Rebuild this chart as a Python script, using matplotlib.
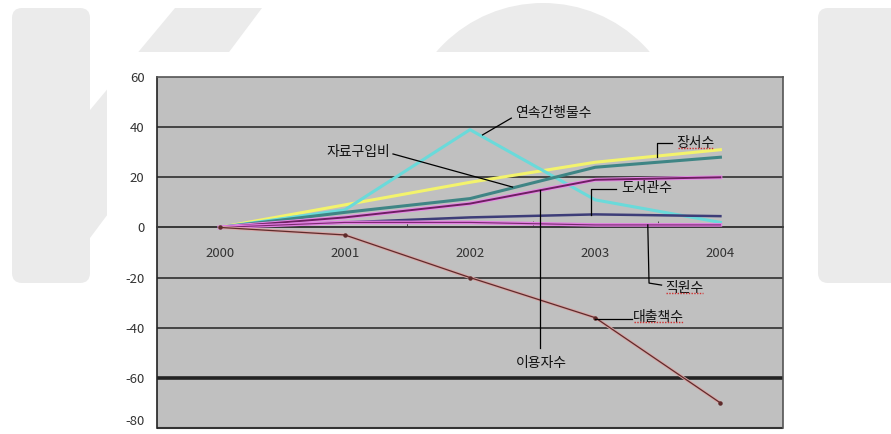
import matplotlib
matplotlib.use("Agg")
import matplotlib.pyplot as plt
from matplotlib.patches import FancyBboxPatch, Polygon, Circle, Rectangle
from matplotlib.transforms import IdentityTransform
from matplotlib.lines import Line2D

plt.rcParams['font.family'] = ['Noto Sans CJK KR', 'DejaVu Sans']
plt.rcParams['axes.unicode_minus'] = False

# data
years = ['2000', '2001', '2002', '2003', '2004']
serials = [0, 7, 39, 11, 2]          # 연속간행물수
books = [0, 9, 18, 26, 31]           # 장서수
purchase = [0, 6, 11.5, 24, 28]      # 자료구입비
users = [0, 4, 9.5, 19, 20]          # 이용자수
libraries = [0, 2, 4, 5.2, 4.5]      # 도서관수
staff = [0, 2, 2, 1, 1]              # 직원수
loans = [0, -3, -20, -36, -70]       # 대출책수

W, H = 891, 434
fig = plt.figure(figsize=(W / 100, H / 100), dpi=100)
fig.patch.set_facecolor('white')

# faint watermark shapes behind the chart (pixel coords, origin top-left)
wm = '#ebebeb'
def px(x, y):
    return (x, H - y)

tr = IdentityTransform()
fig.add_artist(FancyBboxPatch(px(12, 283), 78, 275, boxstyle='round,pad=0,rounding_size=10',
                              transform=tr, fc=wm, ec='none', zorder=-3))
fig.add_artist(Polygon([px(175, 8), px(262, 8), px(90, 238), px(90, 110)], closed=True,
                       transform=tr, fc=wm, ec='none', zorder=-3))
fig.add_artist(Circle(px(543, 144), 141, transform=tr, fc=wm, ec='none', zorder=-3))
fig.add_artist(FancyBboxPatch(px(818, 283), 90, 275, boxstyle='round,pad=0,rounding_size=10',
                              transform=tr, fc=wm, ec='none', zorder=-3))
fig.add_artist(Rectangle(px(107, 434), 708, 382, transform=tr, fc='white', ec='none', zorder=-2))

ax = fig.add_axes([157 / W, 1 - 428 / H, (783 - 157) / W, (428 - 77) / H])
ax.set_facecolor('#c0c0c0')
x = list(range(len(years)))

ax.set_xlim(-0.5, 4.5)
ax.set_ylim(-80, 60)
ax.set_yticks(range(-80, 61, 20))
for v in range(-40, 41, 20):
    ax.axhline(v, color='#3a3a3a', lw=1.3, zorder=1)
ax.axhline(-60, color='#222222', lw=2.6, zorder=1)

for s in ['top', 'right', 'left']:
    ax.spines[s].set_color('#555555')
    ax.spines[s].set_linewidth(1.2)
ax.spines['left'].set_color('#222222')
ax.spines['bottom'].set_position(('data', 0))
ax.spines['bottom'].set_color('#3a3a3a')
ax.spines['bottom'].set_linewidth(1.3)
ax.add_patch(Rectangle((0, 0), 1, 0.001, transform=ax.transAxes, fc='none',
                       ec='#333333', lw=1.5, clip_on=False))

ax.set_xticks(x)
ax.set_xticklabels(years)
ax.set_xticks([0.5, 1.5, 2.5, 3.5], minor=True)
ax.tick_params(axis='x', which='major', length=0, pad=14, labelsize=9.5, colors='#333333')
ax.tick_params(axis='x', which='minor', direction='in', length=4, color='#333333')
ax.tick_params(axis='y', length=0, pad=9, labelsize=9.5, colors='#333333')
ax.get_yticklabels()[0].set_va('bottom')

# series
ax.plot(x, books, color='#f3f36c', lw=2.2, zorder=3)
ax.plot(x, serials, color='#6adada', lw=2.2, zorder=3)
ax.plot(x, purchase, color='#3f8585', lw=2.2, zorder=3)
ax.plot(x, users, color='#e68ae6', lw=2.8, zorder=3)
ax.plot(x, users, color='#6e1f62', lw=1.4, zorder=3)
ax.plot(x, libraries, color='#3d3d78', lw=1.8, zorder=3)
ax.plot(x, staff, color='#e07de0', lw=2.6, zorder=3)
ax.plot(x, staff, color='#7a2a70', lw=0.8, zorder=3)
ax.plot(x, loans, color='#d8a4a4', lw=2.2, zorder=3)
ax.plot(x, loans, color='#5e2b2b', lw=0.9, marker='o', ms=2.2, zorder=3)

# labels with leader lines
k = dict(color='black', lw=0.9, zorder=4)
tk = dict(fontsize=10, va='center', color='#111111', zorder=5)
ax.text(2.36, 45.6, '연속간행물수', ha='left', **tk)
ax.plot([2.33, 2.10], [43.6, 36.9], **k)
ax.text(1.36, 30.1, '자료구입비', ha='right', **tk)
ax.plot([1.385, 2.34], [29.3, 16.1], **k)
t1 = ax.text(3.65, 33.7, '장서수', ha='left', **tk)
ax.plot([3.61, 3.49, 3.49], [33.7, 33.7, 28.1], **k)
ax.text(3.21, 15.7, '도서관수', ha='left', **tk)
ax.plot([3.17, 2.97, 2.97], [15.3, 15.3, 5.0], **k)
ax.text(2.57, -54.1, '이용자수', ha='center', **tk)
ax.plot([2.56, 2.56], [-48.1, 14.9], **k)
t2 = ax.text(3.56, -24.2, '직원수', ha='left', **tk)
ax.plot([3.53, 3.43, 3.42], [-23.0, -22.2, 1.0], **k)
t3 = ax.text(3.30, -35.7, '대출책수', ha='left', **tk)
ax.plot([2.998, 3.29], [-36.5, -36.5], **k)

# red spell-check underline
fig.canvas.draw()
rend = fig.canvas.get_renderer()
for t in (t1, t2, t3):
    bb = t.get_window_extent(rend)
    fig.add_artist(Line2D([bb.x0 + 1, bb.x1 - 1], [bb.y0 + 2, bb.y0 + 2], transform=tr,
                          color='#d03030', lw=1.0, ls=(0, (1, 1)), zorder=6))

fig.savefig('out.png', dpi=100)
